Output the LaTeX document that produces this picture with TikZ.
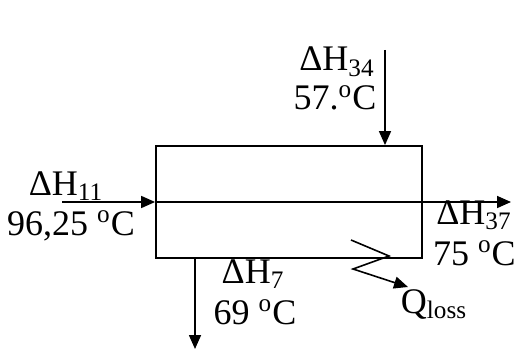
\documentclass[tikz,border=0pt]{standalone}
\usepackage{fontspec}
\setmainfont{Liberation Serif}
\usetikzlibrary{arrows.meta}

\begin{document}
\begin{tikzpicture}[x=0.5pt, y=-0.5pt,
  flow/.style={line width=0.8pt, -{Triangle[length=7pt,width=6pt]}},
  lbl/.style={font=\fontsize{18}{20}\selectfont, anchor=base, inner sep=0pt}]
  \useasboundingbox (0,0) rectangle (517,352);
  % mixer box
  \node[draw, line width=0.9pt, minimum width=133pt, minimum height=56pt, inner sep=0pt] (hx) at (289,202) {};
  \coordinate (in11) at (62,202);
  \coordinate (out37) at (511,202);
  \coordinate (in34) at (385,50);
  \coordinate (out7) at (195,349);
  \coordinate (z1) at (351,240);
  \coordinate (z2) at (389,256);
  \coordinate (z3) at (353,269);
  \coordinate (qloss) at (408,287);
  % streams
  \draw[flow] (in11) -- (hx.west);
  \draw[flow] (hx.west) -- (out37);
  \draw[flow] (in34) -- (in34 |- hx.north);
  \draw[flow] (out7 |- hx.south) -- (out7);
  \draw[flow] (z1) -- (z2) -- (z3) -- (qloss);
  % labels
  \node[lbl] (dh11) at (66,195) {ΔH\textsubscript{11}};
  \node[lbl] (t11) at (71,235) {96,25 \textsuperscript{o}C};
  \node[lbl] (dh34) at (337,71) {ΔH\textsubscript{34}};
  \node[lbl] (t34) at (335,110) {57.\textsuperscript{o}C};
  \node[lbl] (dh7) at (253,283) {ΔH\textsubscript{7}};
  \node[lbl] (t7) at (255,324) {69 \textsuperscript{o}C};
  \node[lbl, anchor=base east] (dh37) at (512,224) {ΔH\textsubscript{37}};
  \node[lbl, anchor=base east] (t37) at (516,265) {75 \textsuperscript{o}C};
  \node[lbl] (ql) at (434,313) {Q\textsubscript{loss}};
\end{tikzpicture}
\end{document}
